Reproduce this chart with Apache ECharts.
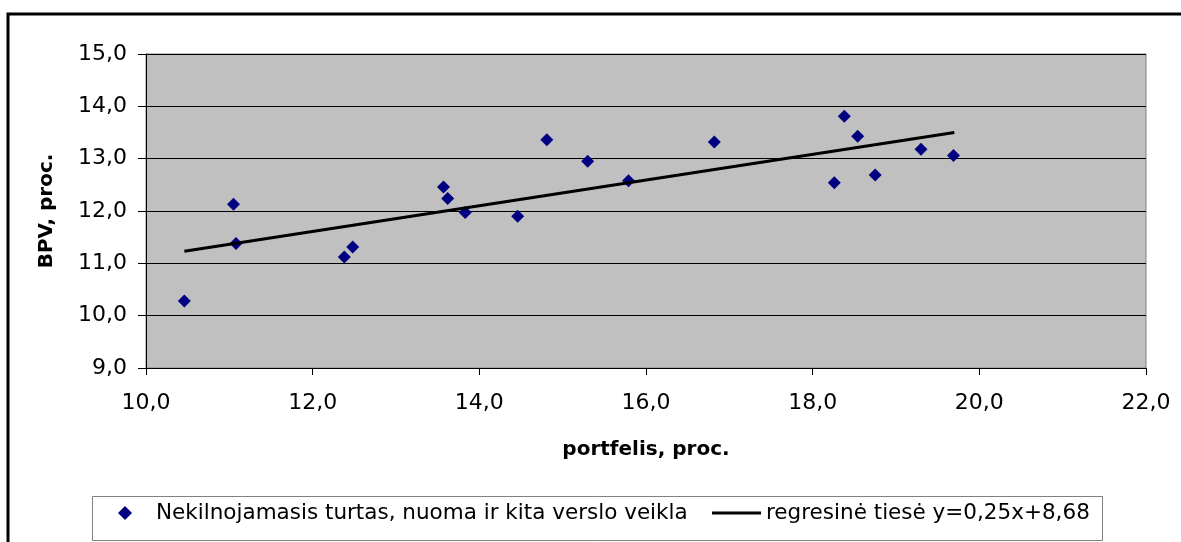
<!DOCTYPE html>
<html>
<head>
<meta charset="utf-8">
<script src="https://cdn.jsdelivr.net/npm/echarts@6/dist/echarts.min.js"></script>
<style>
  html, body { margin: 0; padding: 0; background: #fff; }
  #chart { width: 1181px; height: 542px; }
</style>
</head>
<body>
<div id="chart"></div>
<script>
// Scatter points: portfelis (x) vs BPV (y)
const xValues = [10.46, 11.05, 11.08, 12.38, 12.48, 13.57, 13.62, 13.83, 14.46, 14.81, 15.30, 15.79, 16.82, 18.26, 18.38, 18.54, 18.75, 19.30, 19.69];
const yValues = [10.28, 12.13, 11.38, 11.12, 11.31, 12.46, 12.24, 11.97, 11.90, 13.36, 12.95, 12.58, 13.32, 12.54, 13.81, 13.43, 12.69, 13.18, 13.06];
// Regression line end points
const trendX = [10.46, 19.70];
const trendY = [11.23, 13.50];
const seriesNames = ['Nekilnojamasis turtas, nuoma ir kita verslo veikla', 'regresinė tiesė y=0,25x+8,68'];
const xAxisName = 'portfelis, proc.';
const yAxisName = 'BPV, proc.';

const FONT = '"DejaVu Sans", "Liberation Sans", Arial, sans-serif';
const fmt = v => v.toFixed(1).replace('.', ',');

const chart = echarts.init(document.getElementById('chart'), null, { renderer: 'canvas' });
chart.setOption({
  animation: false,
  backgroundColor: '#ffffff',
  textStyle: { fontFamily: FONT },
  graphic: [
    { type: 'rect', shape: { x: 8, y: 14, width: 1200, height: 600 },
      style: { fill: 'none', stroke: '#000', lineWidth: 3 }, z: 0 },
    { type: 'rect', shape: { x: 92.5, y: 496.5, width: 1010, height: 44 },
      style: { fill: '#fff', stroke: '#808080', lineWidth: 1 }, z: 1 }
  ],
  grid: {
    left: 146, top: 54, right: 35, bottom: 174,
    show: true, backgroundColor: '#c0c0c0', borderColor: '#808080', borderWidth: 1
  },
  xAxis: {
    type: 'value', min: 10, max: 22, interval: 2,
    name: xAxisName, nameLocation: 'middle', nameGap: 72,
    nameTextStyle: { fontFamily: FONT, fontWeight: 'bold', fontSize: 20, color: '#000' },
    axisLine: { show: true, onZero: false, lineStyle: { color: '#000', width: 1 } },
    axisTick: { show: true, length: 7, lineStyle: { color: '#000' } },
    axisLabel: { formatter: fmt, fontSize: 22, color: '#000', margin: 24, fontFamily: FONT },
    splitLine: { show: false }
  },
  yAxis: {
    type: 'value', min: 9, max: 15, interval: 1,
    name: yAxisName, nameLocation: 'middle', nameGap: 89, nameRotate: 90,
    nameTextStyle: { fontFamily: FONT, fontWeight: 'bold', fontSize: 20, color: '#000' },
    axisLine: { show: true, onZero: false, lineStyle: { color: '#000', width: 1 } },
    axisTick: { show: true, length: 8, lineStyle: { color: '#000' } },
    axisLabel: { formatter: fmt, fontSize: 22, color: '#000', margin: 19, fontFamily: FONT },
    splitLine: { show: true, lineStyle: { color: '#000', width: 1 } }
  },
  legend: [
    {
      data: [{ name: seriesNames[0], icon: 'diamond' }],
      left: 118, top: 502, itemWidth: 14, itemHeight: 14, padding: 0,
      textStyle: { fontSize: 21.5, color: '#000', fontFamily: FONT, padding: [0, 0, 0, 19] }
    },
    {
      data: [{ name: seriesNames[1], icon: 'rect' }],
      left: 712, top: 502, itemWidth: 49, itemHeight: 3, padding: 0,
      textStyle: { fontSize: 21.5, color: '#000', fontFamily: FONT }
    }
  ],
  series: [
    {
      name: seriesNames[0], type: 'scatter', symbol: 'diamond', symbolSize: 13,
      itemStyle: { color: '#000080', opacity: 1 },
      data: xValues.map((x, i) => [x, yValues[i]]), z: 3
    },
    {
      name: seriesNames[1], type: 'line', showSymbol: false, symbol: 'none',
      lineStyle: { color: '#000', width: 3 }, itemStyle: { color: '#000' },
      data: trendX.map((x, i) => [x, trendY[i]]), z: 4
    }
  ]
});
</script>
</body>
</html>
